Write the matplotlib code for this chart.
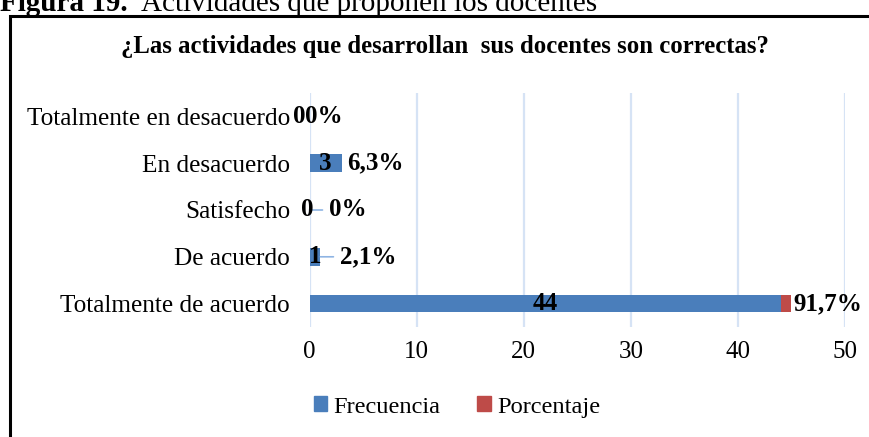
import matplotlib
matplotlib.use("Agg")
import matplotlib.pyplot as plt
from matplotlib.patches import Rectangle, Patch

categorias = ["Totalmente en desacuerdo", "En desacuerdo", "Satisfecho",
              "De acuerdo", "Totalmente de acuerdo"]
frecuencia = [0, 3, 0, 1, 44]
porcentaje = [0.0, 0.063, 0.0, 0.021, 0.917]
etiquetas_pct = ["0%", "6,3%", "0%", "2,1%", "91,7%"]
xticks = [0, 10, 20, 30, 40, 50]

azul = "#4a7ebb"
rojo = "#be4b48"
grid_color = "#d6e3f5"
serif = "Liberation Serif"

fig = plt.figure(figsize=(8.7, 4.37), dpi=100)

# caption above the chart box (partly cut at the top)
fig.text(0.0, 1 - 11 / 437, "Figura 19.", fontsize=21, fontweight="bold",
         family=serif, va="baseline", ha="left")
fig.text(141 / 870, 1 - 11 / 437, "Actividades que proponen los docentes",
         fontsize=21, family=serif, va="baseline", ha="left")

# chart area border
fig.patches.append(Rectangle((10.5 / 870, -0.2), 1.2, 1 - 15.5 / 437 + 0.2,
                             transform=fig.transFigure, fill=False,
                             edgecolor="black", linewidth=2.2))

ax = fig.add_axes([309.5 / 870, 1 - 327 / 437, (845 - 309.5) / 870, (327 - 93) / 437])

y = list(range(len(categorias)))[::-1]
ax.barh(y, frecuencia, height=0.38, color=azul, zorder=3)
ax.barh(y, porcentaje, left=frecuencia, height=0.38, color=rojo, zorder=3)

ax.set_xlim(0, 50)
ax.set_ylim(-0.5, len(categorias) - 0.5)
ax.set_xticks(xticks)
ax.set_xticklabels([str(t) for t in xticks], family=serif, fontsize=18)
ax.set_yticks(y)
ax.set_yticklabels(categorias, family=serif, fontsize=18.2)
ax.tick_params(axis="both", length=0)
ax.tick_params(axis="y", pad=14)
ax.tick_params(axis="x", pad=10)
ax.grid(axis="x", color=grid_color, linewidth=1.6, zorder=0)
for s in ax.spines.values():
    s.set_visible(False)

# frequency labels centred on the blue part
freq_off = [-10, 0, -2, 0, 0]
for yi, f, off in zip(y, frecuencia, freq_off):
    ax.annotate(str(f), xy=(f / 2, yi), xytext=(off * 0.72, 0), textcoords="offset points",
                ha="center", va="center", fontsize=18, fontweight="bold",
                family=serif, zorder=5)

# percentage labels next to the bar end (pixel offsets like Excel placed them)
offsets = [-5, 5, 20, 20, 3]
leader = [False, False, True, True, False]
for yi, f, p, lab, off, ld in zip(y, frecuencia, porcentaje, etiquetas_pct, offsets, leader):
    end = f + p
    ax.annotate(lab, xy=(end, yi), xytext=(off * 0.72, 0), textcoords="offset points",
                ha="left", va="center", fontsize=18, fontweight="bold",
                family=serif, zorder=5)
    if ld:
        ax.annotate("", xy=(end, yi), xytext=((off - 7) * 0.72, 0),
                    textcoords="offset points",
                    arrowprops=dict(arrowstyle="-", color="#8eb4e3", lw=1.2,
                                    shrinkA=0, shrinkB=0), zorder=4)

# title of the chart
fig.text(445 / 870, 1 - 47 / 437,
         "¿Las actividades que desarrollan  sus docentes son correctas?",
         ha="center", va="center", fontsize=17.8, fontweight="bold", family=serif)

handles = [Patch(color=azul, label="Frecuencia"), Patch(color=rojo, label="Porcentaje")]
fig.legend(handles=handles, loc="center", bbox_to_anchor=(457 / 870, 1 - 407 / 437),
           ncol=2, frameon=False, prop={"family": serif, "size": 17.6},
           handlelength=0.55, handleheight=0.55, handletextpad=0.25, columnspacing=1.5)

fig.savefig("out.png", dpi=100)
